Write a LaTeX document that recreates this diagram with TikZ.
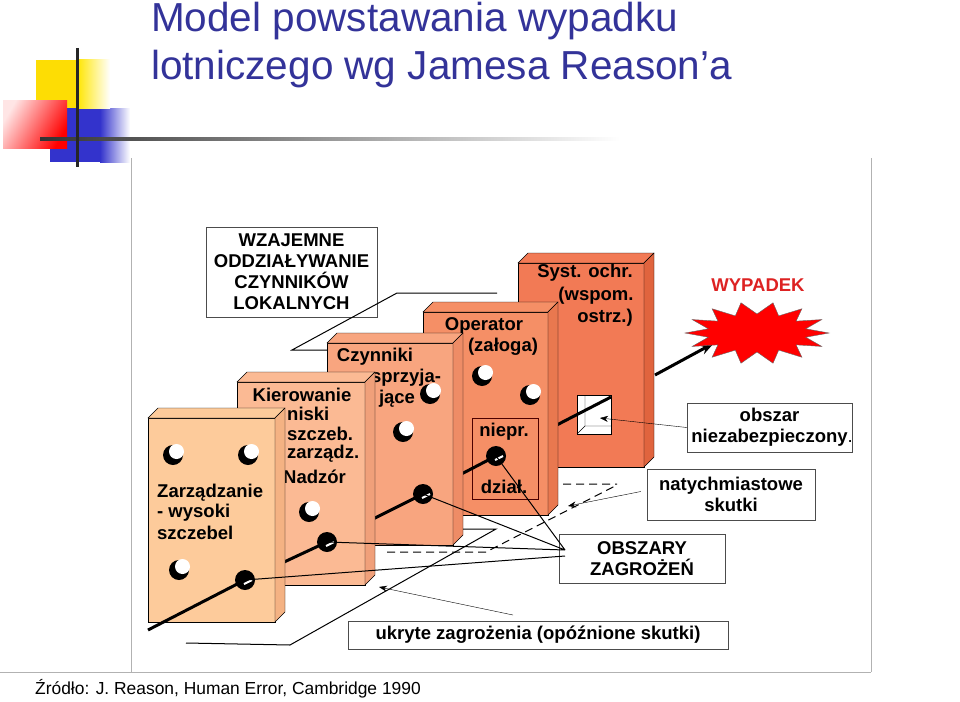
\documentclass[tikz,border=0pt]{standalone}
\usepackage{fontspec}
\setmainfont{Liberation Sans}
\usetikzlibrary{arrows.meta,calc}
\definecolor{ttl}{HTML}{333399}
\definecolor{cA}{HTML}{FDCB9B}\definecolor{sA}{HTML}{F4B283}
\definecolor{cB}{HTML}{FBBA94}\definecolor{sB}{HTML}{F0A07A}
\definecolor{cC}{HTML}{F8A57F}\definecolor{sC}{HTML}{EE8C66}
\definecolor{cD}{HTML}{F58F66}\definecolor{sD}{HTML}{E9784F}
\definecolor{cE}{HTML}{F27A55}\definecolor{sE}{HTML}{E0643E}
\definecolor{wred}{HTML}{DD2222}
\definecolor{lblue}{HTML}{3333CC}
\newcommand\slabbox[6]{%
 \filldraw[fill=#5,draw=black,thin] (#1,#2) rectangle (#3,#4);
 \filldraw[fill=#5,draw=black,thin] (#1,#2)--(#1+10,#2-10)--(#3+10,#2-10)--(#3,#2)--cycle;
 \filldraw[fill=#6,draw=black,thin] (#3,#2)--(#3+10,#2-10)--(#3+10,#4-10)--(#3,#4)--cycle;}
\newcommand\hole[1]{%
 \fill[black] ($(#1)+(-2,2)$) circle (10);
 \fill[white] ($(#1)+(1.5,-1.5)$) circle (7.5);}
\newcommand\thole[1]{%
 \fill[black] (#1) circle (10);
 \draw[white,line width=2pt] ($(#1)+(-1,4)$)--($(#1)+(7,0)$);}
\tikzset{lbl/.style={font=\bfseries\fontsize{18.5}{21}\selectfont,inner sep=0pt},
 tbox/.style={draw=black!70,fill=white,thin,font=\bfseries\fontsize{18.5}{21}\selectfont,align=center,inner sep=0pt},
 traj/.style={line width=3pt},
 thin1/.style={line width=1pt}}
\begin{document}
\begin{tikzpicture}[x=1pt,y=-1pt]
\useasboundingbox (0,0) rectangle (960,701);
% logo
\fill[lblue] (50,108) rectangle (100,162);
\shade[left color=lblue,right color=white] (100,108) rectangle (130,162);
\fill[yellow!80!orange] (36,60) rectangle (77,108);
\shade[left color=yellow!80!orange,right color=white] (77,60) rectangle (110,108);
\shade[left color=red!10,right color=red,shading angle=60] (3,100) rectangle (67,148);
\shade[left color=black!80,right color=white] (40,137.5) rectangle (620,140.5);
\draw[black!85,line width=3pt] (77,48)--(77,167);
\node[ttl,anchor=west,font=\fontsize{40.5}{44}\selectfont,inner sep=0pt] (t1) at (151,21) {Model powstawania wypadku};
\node[ttl,anchor=west,font=\fontsize{40.5}{44}\selectfont,inner sep=0pt] (t2) at (151,69) {lotniczego wg Jamesa Reason’a};
% frame
\draw[black!30] (131,158)--(131,672) (871,158)--(871,672) (0,672)--(871,672);
\node[anchor=west,font=\fontsize{17.4}{20}\selectfont,inner sep=0pt] (src) at (35,689) {Źródło: J. Reason, Human Error, Cambridge 1990};
% coordinates
\coordinate (p0) at (148,630); \coordinate (h1) at (245,580); \coordinate (h2) at (327,542);
\coordinate (h3) at (423,494); \coordinate (h4) at (496,456); \coordinate (w) at (611,397);
\coordinate (s2) at (237,584); \coordinate (s5) at (518,445);
% box top
\node[tbox,minimum width=171,minimum height=90] (wz) at (291.5,272) {WZAJEMNE\\ODDZIAŁYWANIE\\CZYNNIKÓW\\LOKALNYCH};
\draw[thin1] (497,293)--(397,293)--(292,350)--(376,350);
% slab5
\slabbox{518}{263}{644}{467}{cE}{sE}
\fill[white,draw=black] (577,395) rectangle (611,434);
\draw (585,395)--(585,426)--(611,426) (577,434)--(585,426);
\draw[traj] (s5)--(w);
\draw[traj,-{Stealth[length=14pt,width=10pt]}] (655,375)--(714,343);
\node[lbl] (sy1) at (585,273) {Syst. ochr.};
\node[lbl] (sy2) at (596,296) {(wspom.};
\node[lbl] (sy3) at (605,318) {ostrz.)};
% slab4
\slabbox{423}{312}{548}{515}{cD}{sD}
\draw[black!70!red] (472,418) rectangle (538,499);
\draw[traj] (h3)--(h4);
\hole{484,374} \hole{532,393} \thole{h4}
\node[lbl] (op1) at (484,326) {Operator};
\node[lbl] (op2) at (503,347) {(załoga)};
\node[lbl] (np) at (504,432) {niepr.};
\node[lbl] (dz) at (504,487) {dział.};
% slab3
\slabbox{327}{343}{453}{545}{cC}{sC}
\draw[traj] (h2)--(h3);
\node[lbl] (cz1) at (375,357) {Czynniki};
\node[lbl] (cz2) at (406,378) {sprzyja-};
\node[lbl] (cz3) at (397,399) {jące};
\hole{432,392} \hole{405,430} \thole{h3}
% slab2
\slabbox{237}{382}{365}{585}{cB}{sB}
\draw[traj] (s2)--(h2);
\node[lbl] (k1) at (302,395) {Kierowanie};
\node[lbl,anchor=west] (k2) at (287,414) {niski};
\node[lbl,anchor=west] (k3) at (287,434) {szczeb.};
\node[lbl,anchor=west] (k4) at (287,454) {zarządz.};
\node[lbl,anchor=west] (k5) at (283,477) {Nadzór};
\hole{311,510} \thole{h2}
% slab1
\slabbox{148}{418}{275}{622}{cA}{sA}
\draw[traj] (p0)--(h1);
\node[lbl,anchor=west] (z1) at (157,493) {Zarządzanie};
\node[lbl,anchor=west] (z2) at (157,513) {- wysoki};
\node[lbl,anchor=west] (z3) at (157,533) {szczebel};
\hole{175,453} \hole{250,453} \hole{181,568} \thole{h1}
% star
\fill[red,draw=black!60,thin] plot[samples=29,domain=0:28,variable=\i]
 ({757+ifthenelse(mod(round(\i),2)==0,72,50)*cos(\i*360/28)},{333+ifthenelse(mod(round(\i),2)==0,31,19)*sin(\i*360/28)}) -- cycle;
\node[lbl,text=wred] (wyp) at (758,285) {WYPADEK};
% boxes
\node[tbox,minimum width=165,minimum height=49] (obz) at (769.5,427.5) {obszar\\niezabezpieczony\rlap{\mdseries.}};
\node[tbox,minimum width=168,minimum height=51] (nat) at (731,494.5) {natychmiastowe\\skutki};
\node[tbox,minimum width=166,minimum height=49] (obs) at (642,558.5) {OBSZARY\\ZAGROŻEŃ};
\node[tbox,minimum width=380,minimum height=28] (uk) at (538,635) {ukryte zagrożenia (opóźnione skutki)};
% connectors
\coordinate (cv) at (565,550); \coordinate (cv2) at (565,556);
\draw[thin1] (cv)--(h4) (cv)--(h3) (cv)--(h2) (cv2)--(h1);
\draw[thin1,dashed,dash pattern=on 8pt off 5pt] (387,552)--(486,552)--(617,485) (563,484)--(617,484);
\draw[thin1] (186,643)--(290,645)--(496,529)--(463,529);
\draw[-{Stealth[length=8pt]}] (nat.west)++(-6,-3) -- (568,506);
\draw[-{Stealth[length=8pt]}] (obz.west) -- (600,418);
\draw[-{Stealth[length=8pt]}] (513,615) -- (379,587);
\end{tikzpicture}
\end{document}
